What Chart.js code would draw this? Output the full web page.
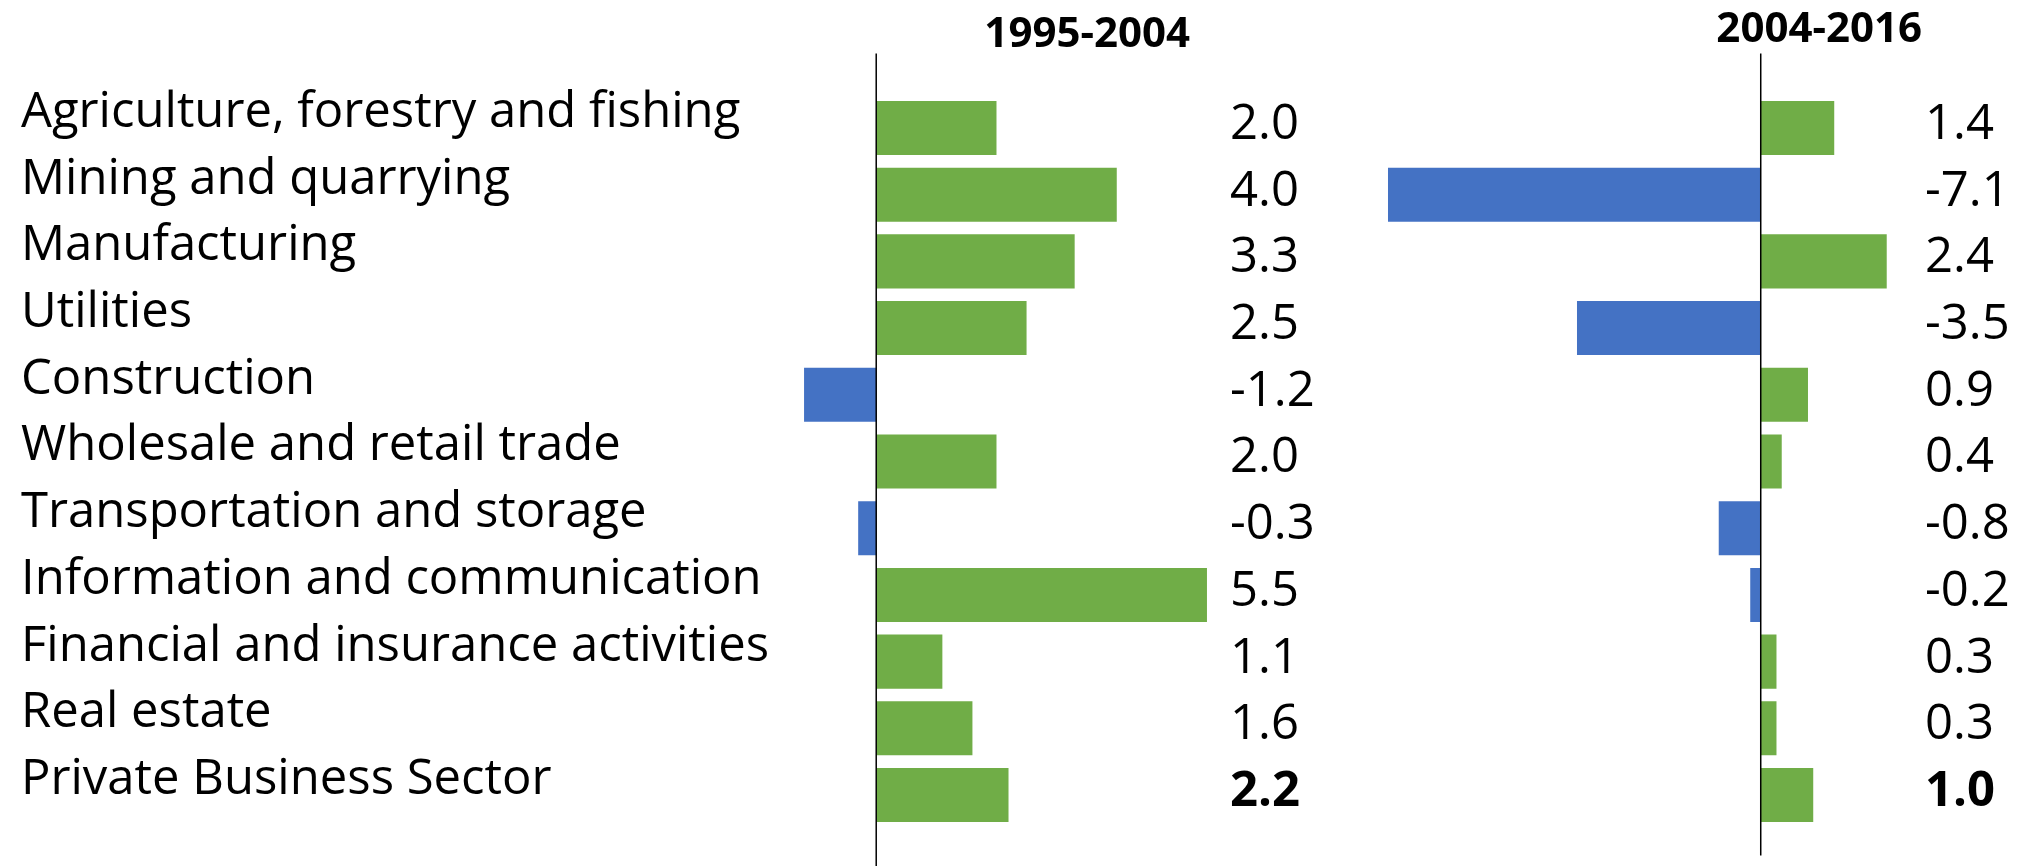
<!DOCTYPE html>
<html>
<head>
<meta charset="utf-8">
<script src="https://cdn.jsdelivr.net/npm/chart.js@4/dist/chart.umd.min.js"></script>
<style>
    html, body { margin: 0; padding: 0; background: #fff; }
    body { width: 2022px; height: 866px; position: relative; overflow: hidden; }
    .panel { position: absolute; top: 0; height: 866px; }
    #leftPanel { left: 0; width: 1360px; }
    #rightPanel { left: 1360px; width: 662px; }
</style>
</head>
<body>
<div class="panel" id="leftPanel"><canvas id="chart1995"></canvas></div>
<div class="panel" id="rightPanel"><canvas id="chart2004"></canvas></div>
<script>
// Data
const sectors = [
    'Agriculture, forestry and fishing',
    'Mining and quarrying',
    'Manufacturing',
    'Utilities',
    'Construction',
    'Wholesale and retail trade',
    'Transportation and storage',
    'Information and communication',
    'Financial and insurance activities',
    'Real estate',
    'Private Business Sector'
];
const growth1995to2004 = [2.0, 4.0, 3.3, 2.5, -1.2, 2.0, -0.3, 5.5, 1.1, 1.6, 2.2];
const growth2004to2016 = [1.4, -7.1, 2.4, -3.5, 0.9, 0.4, -0.8, -0.2, 0.3, 0.3, 1.0];
const periodTitles = ['1995-2004', '2004-2016'];

const GREEN = '#70AD47';
const BLUE = '#4472C4';
const FONT = "'Open Sans', 'Liberation Sans', sans-serif";
const LABEL_SIZE = 49;
const VALUE_SIZE = 49;

Chart.defaults.font.family = FONT;
Chart.defaults.color = '#000';

// Zero line + value labels + period title
const overlayPlugin = {
    id: 'overlay',
    afterDatasetsDraw(chart, args, opts) {
        const { ctx, chartArea, scales } = chart;
        const x0 = scales.x.getPixelForValue(0);

        ctx.save();
        ctx.strokeStyle = '#000';
        ctx.lineWidth = 1.5;
        ctx.beginPath();
        ctx.moveTo(x0, chartArea.top - 41);
        ctx.lineTo(x0, chartArea.bottom + opts.lineExtra);
        ctx.stroke();

        const values = chart.data.datasets[0].data;
        const meta = chart.getDatasetMeta(0);
        ctx.fillStyle = '#000';
        ctx.textAlign = 'left';
        ctx.textBaseline = 'middle';
        values.forEach((v, i) => {
            const isTotal = i === values.length - 1;
            ctx.font = `${isTotal ? 'bold ' : ''}${VALUE_SIZE}px ${FONT}`;
            ctx.fillText(v.toFixed(1), chartArea.right, meta.data[i].y - 3);
        });

        ctx.font = `bold 42px ${FONT}`;
        ctx.textAlign = 'right';
        ctx.textBaseline = 'alphabetic';
        ctx.fillText(opts.title, chartArea.right - opts.titleInset, opts.titleBaseline);
        ctx.restore();
    }
};

function buildChart(canvasId, values, cfg) {
    const ctx = document.getElementById(canvasId).getContext('2d');
    return new Chart(ctx, {
        type: 'bar',
        data: {
            labels: sectors,
            datasets: [{
                data: values,
                backgroundColor: c => (c.raw < 0 ? BLUE : GREEN),
                borderWidth: 0,
                categoryPercentage: 1,
                barPercentage: 0.81
            }]
        },
        options: {
            indexAxis: 'y',
            responsive: true,
            maintainAspectRatio: false,
            animation: false,
            layout: { padding: cfg.padding },
            scales: {
                x: { display: false, min: cfg.min, max: cfg.max },
                y: {
                    display: true,
                    grid: { display: false },
                    border: { display: false },
                    ticks: {
                        display: cfg.showLabels,
                        crossAlign: 'far',
                        labelOffset: -15,
                        font: { size: LABEL_SIZE },
                        color: '#000'
                    },
                    afterFit: s => { s.width = cfg.axisWidth; }
                }
            },
            plugins: {
                legend: { display: false },
                tooltip: { enabled: false },
                overlay: cfg.overlay
            }
        },
        plugins: [overlayPlugin]
    });
}

// left panel: labels wide enough not to be clipped, zero stays at x=877
buildChart('chart1995', growth1995to2004, {
    padding: { left: 21, right: 130, top: 94.6, bottom: 37.6 },
    axisWidth: 759,
    showLabels: true,
    min: -1.6,
    max: 5.883,
    overlay: { title: periodTitles[0], titleInset: 40, titleBaseline: 47, lineExtra: 38 }
});

buildChart('chart2004', growth2004to2016, {
    padding: { left: 7, right: 97, top: 94.6, bottom: 37.6 },
    axisWidth: 0,
    showLabels: false,
    min: -7.5,
    max: 3.129,
    overlay: { title: periodTitles[1], titleInset: 3, titleBaseline: 42, lineExtra: 27 }
});
</script>
</body>
</html>
